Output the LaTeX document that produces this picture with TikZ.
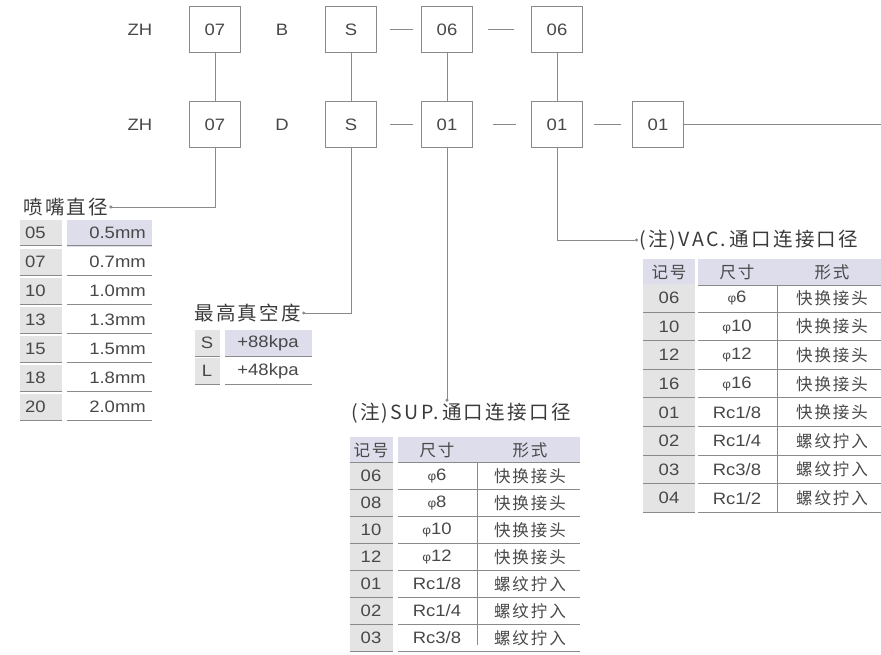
\documentclass[tikz,border=0pt]{standalone}
\usepackage{fontspec}
\setmainfont{Liberation Sans}[FakeStretch=1.12]
\newfontfamily\cjk{Noto Sans CJK SC}
\newfontfamily\cjkwide{Noto Sans CJK SC}[LetterSpace=12]
\usetikzlibrary{arrows.meta,positioning}
\definecolor{ink}{HTML}{484848}
\definecolor{rule}{HTML}{8A8A8A}
\definecolor{lav}{HTML}{DDDDEC}
\definecolor{cellgray}{HTML}{E4E4E4}
\newcommand{\dia}{{\fontsize{12}{12}\selectfont φ}}

\tikzset{
  codebox/.style={draw=rule, line width=1pt, minimum width=51pt, minimum height=46pt,
    inner sep=0pt, text=ink, font=\fontsize{16.5}{16.5}\selectfont},
  codetxt/.style={inner sep=0pt, text=ink, font=\fontsize{16.5}{16.5}\selectfont},
  link/.style={draw=rule, line width=1pt},
  leader/.style={draw=rule, line width=0.9pt, -{Circle[length=3pt]}},
  tabhead/.style={inner sep=1pt, text=ink!80!black, font=\cjkwide\fontsize{19.5}{19.5}\selectfont},
  colhead/.style={inner sep=0pt, text=ink, font=\cjkwide\fontsize{16.5}{16.5}\selectfont},
  celltxt/.style={inner sep=0pt, text=ink, font=\fontsize{16.5}{16.5}\selectfont},
  cellcjk/.style={inner sep=0pt, text=ink, font=\cjkwide\fontsize{16.5}{16.5}\selectfont},
  rowline/.style={draw=rule, line width=1pt}
}

\begin{document}
\begin{tikzpicture}[x=1pt,y=-1pt]
\useasboundingbox (0,0) rectangle (881,655);

% model code, first line
\node[codetxt] (zhT) at (140,30) {ZH};
\node[codebox] (t07) at (215,30) {07};
\node[codetxt] (letB) at (282,30) {B};
\node[codebox] (tS) at (351,30) {S};
\node[codebox] (t06a) at (447,30) {06};
\node[codebox] (t06b) at (557,30) {06};

% model code, second line
\node[codetxt] (zhB) at (140,125) {ZH};
\node[codebox] (b07) at (215,125) {07};
\node[codetxt] (letD) at (282,125) {D};
\node[codebox] (bS) at (351,125) {S};
\node[codebox] (b01a) at (447,125) {01};
\node[codebox] (b01b) at (557,125) {01};
\node[codebox] (b01c) at (658,125) {01};
\coordinate (edge) at (881,125);

\draw[link] (t07) -- (b07);
\draw[link] (tS) -- (bS);
\draw[link] (t06a) -- (b01a);
\draw[link] (t06b) -- (b01b);
\draw[link,shorten <=13pt,shorten >=8pt] (tS.east) -- (t06a.west);
\draw[link,shorten <=15pt,shorten >=17pt] (t06a.east) -- (t06b.west);
\draw[link,shorten <=13pt,shorten >=8pt] (bS.east) -- (b01a.west);
\draw[link,shorten <=20pt,shorten >=15pt] (b01a.east) -- (b01b.west);
\draw[link,shorten <=11pt,shorten >=11pt] (b01b.east) -- (b01c.west);
\draw[link] (b01c.east) -- (edge);

% nozzle diameter
\node[tabhead,anchor=west] (hNoz) at (22,207) {喷嘴直径};
\draw[leader] (b07.south) |- (hNoz.east);
\fill[lav] (67,220) rectangle (152,247);
\foreach \c/\v [count=\i from 0] in {05/0.5mm,07/0.7mm,10/1.0mm,13/1.3mm,15/1.5mm,18/1.8mm,20/2.0mm}{
  \pgfmathsetmacro\y{233+29*\i}
  \fill[cellgray] (20,\y-13) rectangle (62,\y+13);
  \draw[rowline] (20,\y+13) -- (62,\y+13);
  \draw[rowline] (67,\y+13) -- (152,\y+13);
  \node[celltxt,anchor=west] (noz\i) at (25,\y) {\c};
  \node[celltxt,anchor=east] (nozv\i) at (146,\y) {\v};
}

% max vacuum
\node[tabhead,anchor=west] (hVac) at (193,313) {最高真空度};
\draw[leader] (bS.south) |- (hVac.east);
\fill[lav] (225,330) rectangle (312,356);
\foreach \c/\v [count=\i from 0] in {S/+88kpa,L/+48kpa}{
  \pgfmathsetmacro\y{343+28*\i}
  \fill[cellgray] (195,\y-13) rectangle (220,\y+13);
  \draw[rowline] (195,\y+13) -- (220,\y+13);
  \draw[rowline] (225,\y+13) -- (312,\y+13);
  \node[celltxt] (vac\i) at (207,\y) {\c};
  \node[celltxt] (vacv\i) at (268,\y) {\v};
}

% SUP port
\node[tabhead] (hSup) at (461,413) {(注)SUP.\,通口连接口径};
\draw[leader] (b01a.south) -- (b01a.south |- hSup.north);
\fill[lav] (350,437) rectangle (393,462);
\fill[lav] (398,437) rectangle (580,462);
\draw[rowline] (350,462) -- (393,462);
\draw[rowline] (398,462) -- (580,462);
\node[colhead] (supA) at (371,450) {记号};
\node[colhead] (supB) at (437,450) {尺寸};
\node[colhead] (supC) at (530,450) {形式};
\foreach \c/\s/\f [count=\i from 0] in {06/{\dia6}/快换接头,08/{\dia8}/快换接头,
    10/{\dia10}/快换接头,12/{\dia12}/快换接头,01/Rc1\slash 8/螺纹拧入,
    02/Rc1\slash 4/螺纹拧入,03/Rc3\slash 8/螺纹拧入}{
  \pgfmathsetmacro\y{476+27*\i}
  \fill[cellgray] (350,\y-13.5) rectangle (393,\y+13.5);
  \draw[rowline] (350,\y+13.5) -- (393,\y+13.5);
  \draw[rowline] (398,\y+13.5) -- (580,\y+13.5);
  \node[celltxt] (sup\i) at (371,\y) {\c};
  \node[celltxt] (sups\i) at (437,\y) {\s};
  \node[cellcjk] (supf\i) at (530,\y) {\f};
}
\draw[rowline] (477,462) -- (477,645);

% VAC port
\node[tabhead,anchor=west] (hVacP) at (638,240) {(注)VAC.\,通口连接口径};
\draw[leader] (b01b.south) |- (hVacP.west);
\fill[lav] (643,259) rectangle (695,285);
\fill[lav] (698,259) rectangle (881,285);
\draw[rowline] (643,285) -- (695,285);
\draw[rowline] (698,285) -- (881,285);
\node[colhead] (vacA) at (669,272) {记号};
\node[colhead] (vacB) at (737,272) {尺寸};
\node[colhead] (vacC) at (832,272) {形式};
\foreach \c/\s/\f [count=\i from 0] in {06/{\dia6}/快换接头,10/{\dia10}/快换接头,
    12/{\dia12}/快换接头,16/{\dia16}/快换接头,01/Rc1\slash 8/快换接头,
    02/Rc1\slash 4/螺纹拧入,03/Rc3\slash 8/螺纹拧入,04/Rc1\slash 2/螺纹拧入}{
  \pgfmathsetmacro\y{298+28.6*\i}
  \fill[cellgray] (643,\y-14) rectangle (695,\y+14);
  \draw[rowline] (643,\y+14) -- (695,\y+14);
  \draw[rowline] (698,\y+14) -- (881,\y+14);
  \node[celltxt] (vacp\i) at (669,\y) {\c};
  \node[celltxt] (vacs\i) at (737,\y) {\s};
  \node[cellcjk] (vacf\i) at (832,\y) {\f};
}
\draw[rowline] (777,285) -- (777,512);
\end{tikzpicture}
\end{document}
